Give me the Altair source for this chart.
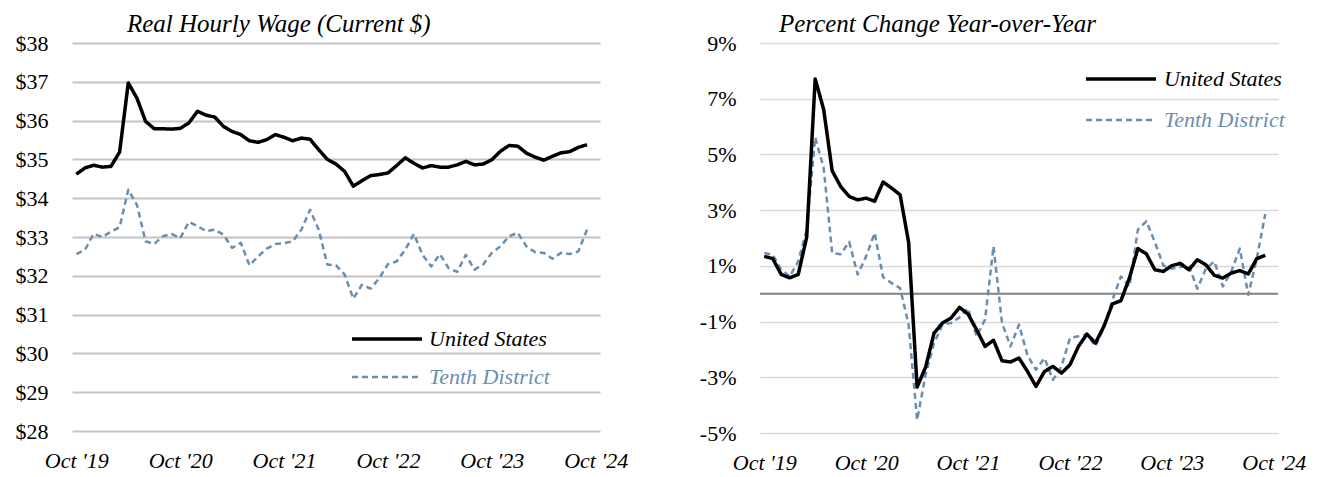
import json
import altair as alt
import pandas as pd

# ---- data (monthly, Oct 2019 .. Sep 2024) ----
month_index = list(range(60))
tick_months = [0, 12, 24, 36, 48, 60]
tick_labels = ["Oct '19", "Oct '20", "Oct '21", "Oct '22", "Oct '23", "Oct '24"]
series_names = ["United States", "Tenth District"]
series_colors = ["#000000", "#6B8EB0"]

us_wage = [34.62, 34.78, 34.85, 34.80, 34.82, 35.19, 36.97, 36.58, 35.98, 35.79,
           35.79, 35.78, 35.80, 35.94, 36.24, 36.14, 36.09, 35.85, 35.72, 35.64,
           35.48, 35.44, 35.51, 35.64, 35.57, 35.48, 35.55, 35.52, 35.25, 35.00,
           34.88, 34.69, 34.31, 34.45, 34.58, 34.61, 34.65, 34.84, 35.04, 34.90,
           34.78, 34.84, 34.80, 34.80, 34.86, 34.95, 34.86, 34.88, 34.99, 35.21,
           35.36, 35.34, 35.16, 35.06, 34.98, 35.08, 35.17, 35.20, 35.31, 35.38]
td_wage = [32.56, 32.67, 33.08, 33.00, 33.14, 33.25, 34.22, 33.83, 32.89, 32.82,
           33.02, 33.08, 32.97, 33.39, 33.28, 33.15, 33.19, 33.06, 32.72, 32.85,
           32.27, 32.50, 32.70, 32.82, 32.84, 32.89, 33.19, 33.70, 33.19, 32.29,
           32.27, 32.03, 31.41, 31.77, 31.67, 31.94, 32.30, 32.37, 32.67, 33.08,
           32.54, 32.24, 32.56, 32.20, 32.10, 32.54, 32.16, 32.29, 32.59, 32.76,
           33.02, 33.11, 32.76, 32.61, 32.59, 32.44, 32.59, 32.56, 32.63, 33.19]
us_yoy = [1.34, 1.26, 0.69, 0.57, 0.69, 2.03, 7.71, 6.61, 4.41, 3.85,
          3.49, 3.37, 3.43, 3.32, 4.01, 3.79, 3.55, 1.85, -3.35, -2.64,
          -1.41, -1.05, -0.87, -0.49, -0.73, -1.29, -1.89, -1.67, -2.41, -2.45,
          -2.31, -2.79, -3.33, -2.79, -2.61, -2.85, -2.55, -1.89, -1.45, -1.77,
          -1.17, -0.37, -0.25, 0.56, 1.62, 1.43, 0.86, 0.80, 1.01, 1.09,
          0.86, 1.22, 1.04, 0.66, 0.56, 0.74, 0.83, 0.71, 1.26, 1.38]
td_yoy = [1.46, 1.40, 0.86, 0.62, 1.16, 2.30, 5.61, 4.51, 1.46, 1.42,
          1.86, 0.69, 1.34, 2.18, 0.59, 0.38, 0.20, -1.11, -4.53, -2.91,
          -1.77, -1.11, -1.05, -0.85, -0.52, -1.53, -0.93, 1.70, -1.05, -1.89,
          -1.11, -2.21, -2.73, -2.31, -3.09, -2.61, -1.59, -1.53, -1.45, -1.89,
          -1.23, -0.22, 0.62, 0.26, 2.30, 2.60, 1.85, 1.01, 0.90, 0.96,
          1.01, 0.18, 0.90, 1.16, 0.26, 0.80, 1.62, -0.04, 1.26, 2.86]

wage_ticks = list(range(28, 39))
yoy_ticks = [-5, -3, -1, 1, 3, 5, 7, 9]

FONT = "Liberation Serif"
label_expr = json.dumps(tick_labels) + "[round(datum.value / 12)]"


def line_layer(values, color, dash, width):
    df = pd.DataFrame({"m": month_index, "v": values})
    return alt.Chart(df).mark_line(color=color, strokeDash=dash, strokeWidth=width,
                                   strokeJoin="round")


def xaxis():
    return alt.X("m:Q", scale=alt.Scale(domain=[-0.5, 60.5], nice=False, zero=False),
                 axis=alt.Axis(values=tick_months, labelExpr=label_expr, grid=False,
                               ticks=False, domain=False, title=None, labelFont=FONT,
                               labelFontSize=22, labelFontStyle="italic", labelColor="#000",
                               labelPadding=19, labelFlush=False))


def legend(x0, x1, xt, y_us, y_td):
    items = []
    for name, color, dash, w, yy in [(series_names[0], series_colors[0], [1, 0], 3.5, y_us),
                                     (series_names[1], series_colors[1], [6, 4], 2.5, y_td)]:
        items.append(alt.Chart(pd.DataFrame({"s": [name]})).mark_rule(
            color=color, strokeDash=dash, strokeWidth=w).encode(
            x=alt.value(x0), x2=alt.value(x1), y=alt.value(yy)))
        items.append(alt.Chart(pd.DataFrame({"s": [name]})).mark_text(
            align="left", baseline="middle", font=FONT, fontSize=22, fontStyle="italic",
            color=color).encode(x=alt.value(xt), y=alt.value(yy), text="s:N"))
    return items


def title(text, dx):
    return alt.TitleParams(text, anchor="start", frame="group", dx=dx, font=FONT,
                           fontSize=25, fontStyle="italic", fontWeight="normal",
                           color="#000", offset=-5)


# ---- left panel ----
ly = alt.Y("v:Q", scale=alt.Scale(domain=[28, 38], nice=False, zero=False),
           axis=alt.Axis(values=wage_ticks, labelExpr="'$' + datum.value", grid=True,
                         gridColor="#C4C4C4", gridWidth=2, ticks=False, domain=False,
                         title=None, labelFont=FONT, labelFontSize=22, labelColor="#000",
                         labelPadding=24))
left = alt.layer(
    line_layer(td_wage, series_colors[1], [6, 4], 2.5).encode(x=xaxis(), y=ly),
    line_layer(us_wage, series_colors[0], [1, 0], 3.5).encode(x=xaxis(), y=ly),
    *legend(280, 350, 357, 296, 334),
).properties(width=528, height=388, title=title("Real Hourly Wage  (Current $)", 55))

# ---- right panel ----
ry = alt.Y("v:Q", scale=alt.Scale(domain=[-5, 9], nice=False, zero=False),
           axis=alt.Axis(values=yoy_ticks, labelExpr="datum.value + '%'", grid=True,
                         gridColor="#D9D9D9", gridWidth=1.5, ticks=False, domain=False,
                         title=None, labelFont=FONT, labelFontSize=22, labelColor="#000",
                         labelPadding=24))
zero = alt.Chart(pd.DataFrame({"v": [0]})).mark_rule(color="#808080", strokeWidth=2).encode(
    y=alt.Y("v:Q", scale=alt.Scale(domain=[-5, 9], nice=False, zero=False)))
right = alt.layer(
    zero,
    line_layer(td_yoy, series_colors[1], [6, 4], 2.5).encode(x=xaxis(), y=ry),
    line_layer(us_yoy, series_colors[0], [1, 0], 3.5).encode(x=xaxis(), y=ry),
    *legend(326, 396, 404, 36, 77),
).properties(width=518, height=390, title=title("Percent Change Year-over-Year", 19))

chart = alt.hconcat(left, right, spacing=71).properties(
    padding={"left": 7, "top": 4, "right": 0, "bottom": 0},
    background="#ffffff",
).configure_view(strokeWidth=0, stroke="transparent")

chart.save("out.html", embed_options={"renderer": "svg", "actions": False})
